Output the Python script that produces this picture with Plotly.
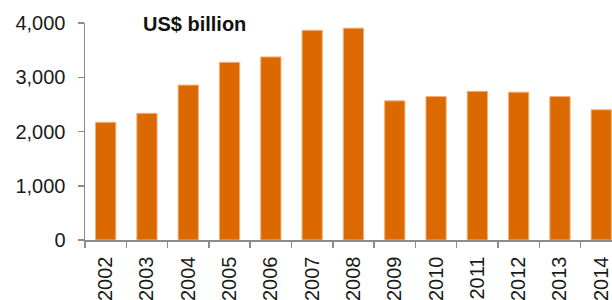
import plotly.graph_objects as go

years = ["2002", "2003", "2004", "2005", "2006", "2007", "2008",
         "2009", "2010", "2011", "2012", "2013", "2014"]
values = [2170, 2335, 2855, 3275, 3375, 3865, 3905,
          2565, 2645, 2740, 2725, 2645, 2400]
y_ticks = [0, 1000, 2000, 3000, 4000]
y_labels = ["0", "1,000", "2,000", "3,000", "4,000"]
unit_label = "US$ billion"

fig = go.Figure(go.Bar(
    x=years, y=values, width=0.49,
    marker=dict(color="#DC6900", line=dict(color="#F2B07A", width=1)),
))

axis_color = "#8C8C8C"
fig.update_layout(
    width=612, height=300,
    margin=dict(l=85, r=0, t=23, b=60),
    paper_bgcolor="white", plot_bgcolor="white",
    font=dict(family="Liberation Sans, Arial", size=20, color="#1a1a1a"),
    showlegend=False,
    xaxis=dict(
        type="category", range=[-0.5, 12.26], automargin=False,
        tickson="boundaries", ticks="outside", ticklen=6, tickwidth=1.5,
        tickcolor=axis_color, showline=True, linecolor=axis_color, linewidth=1.5,
        tickangle=-90, showgrid=False, ticklabelstandoff=7,
    ),
    yaxis=dict(
        range=[0, 4000], tickvals=y_ticks, ticktext=y_labels, automargin=False,
        ticks="outside", ticklen=6, tickwidth=1.5, tickcolor=axis_color,
        showline=True, linecolor=axis_color, linewidth=1.5,
        showgrid=False, zeroline=False, ticklabelstandoff=8,
    ),
    annotations=[dict(
        text="<b>" + unit_label + "</b>", xref="paper", yref="paper",
        x=(141 - 85) / 527, y=(240 - 24) / 217, xanchor="left", yanchor="middle",
        showarrow=False, font=dict(size=20, color="#111111"),
    )],
)
fig.write_html(
    "out.html",
    config={"displayModeBar": False, "staticPlot": True},
    post_script="document.body.style.margin='0';document.body.style.overflow='hidden';",
)
